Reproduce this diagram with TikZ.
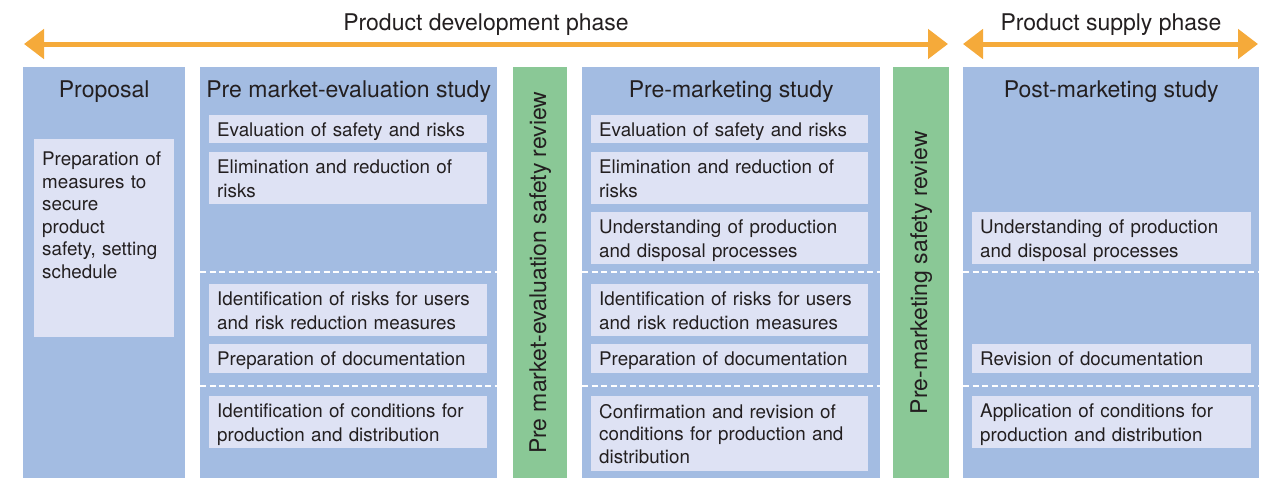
\documentclass[tikz,border=0pt]{standalone}
\usepackage{fontspec}
\setmainfont{TeX Gyre Heros}
\usetikzlibrary{arrows.meta}

\definecolor{colblue}{RGB}{163,188,226}
\definecolor{entryfill}{RGB}{222,226,244}
\definecolor{revgreen}{RGB}{138,200,150}
\definecolor{phaseorange}{RGB}{245,170,58}
\definecolor{textdark}{RGB}{35,31,32}

\newcommand{\entrystrut}{\rule[-4.5pt]{0pt}{22.8pt}}

\tikzset{
    column/.style={fill=colblue, anchor=north west, inner sep=0pt, minimum height=411pt},
    review/.style={column, fill=revgreen},
    heading/.style={text=textdark, font=\fontsize{23}{26}\selectfont, inner sep=0pt},
    entry/.style={fill=entryfill, anchor=north west, inner xsep=8pt, inner ysep=0pt,
        align=left, text=textdark, text width=#1,
        font=\fontsize{18.8}{22.6}\selectfont,
        execute at begin node=\entrystrut, execute at end node=\entrystrut},
    sep/.style={draw=white, line width=2pt, dash pattern=on 6pt off 3.5pt},
    phase/.style={draw=phaseorange, line width=5pt,
        {Triangle[length=20pt,width=29pt]}-{Triangle[length=20pt,width=29pt]}}
}

\begin{document}
\begin{tikzpicture}[x=1pt, y=-1pt]
    \useasboundingbox (0,0) rectangle (1277,479);

    % phases
    \coordinate (devL) at (24,44);
    \coordinate (devR) at (948,44);
    \coordinate (supL) at (963,44);
    \coordinate (supR) at (1258,44);
    \draw[phase] (devL) -- (devR);
    \draw[phase] (supL) -- (supR);
    \node[heading, anchor=base] (devlbl) at (486,30) {Product development phase};
    \node[heading, anchor=base] (suplbl) at (1111,30) {Product supply phase};

    % columns
    \node[column, minimum width=162pt] (prop) at (23,67) {};
    \node[column, minimum width=297pt] (pme) at (200,67) {};
    \node[review, minimum width=54pt] (rev1) at (513,67) {};
    \node[column, minimum width=298pt] (pms) at (582,67) {};
    \node[review, minimum width=56pt] (rev2) at (893,67) {};
    \node[column, minimum width=296pt] (post) at (963,67) {};

    \node[heading, anchor=base] (proptitle) at ([yshift=-30pt]prop.north) {Proposal};
    \node[heading, anchor=base] (pmetitle) at ([yshift=-30pt]pme.north) {Pre market-evaluation study};
    \node[heading, anchor=base] (pmstitle) at ([yshift=-30pt]pms.north) {Pre-marketing study};
    \node[heading, anchor=base] (posttitle) at ([yshift=-30pt]post.north) {Post-marketing study};
    \node[heading, rotate=90] (rev1lbl) at (rev1.center) {Pre market-evaluation safety review};
    \node[heading, rotate=90] (rev2lbl) at (rev2.center) {Pre-marketing safety review};

    % separators
    \foreach \y in {272,386} {
        \draw[sep] (200,\y) -- (497,\y);
        \draw[sep] (582,\y) -- (880,\y);
        \draw[sep] (963,\y) -- (1259,\y);
    }

    % proposal
    \node[entry=124pt, minimum height=198pt] (propbox) at (34,139) {};
    \node[entry=124pt, fill=none, inner ysep=8pt] (proptext) at (propbox.north west)
        {Preparation of\\measures to\\secure\\product\\safety, setting\\schedule};

    % pre market-evaluation study
    \node[entry=262pt, minimum height=28pt] (pme1) at (209,115) {Evaluation of safety and risks};
    \node[entry=262pt, minimum height=52pt] (pme2) at (209,152) {Elimination and reduction of\\risks};
    \node[entry=262pt, minimum height=52pt] (pme3) at (209,284) {Identification of risks for users\\and risk reduction measures};
    \node[entry=262pt, minimum height=29pt] (pme4) at (209,344) {Preparation of documentation};
    \node[entry=262pt, minimum height=52pt] (pme5) at (209,396) {Identification of conditions for\\production and distribution};

    % pre-marketing study
    \node[entry=261pt, minimum height=28pt] (pms1) at (591,115) {Evaluation of safety and risks};
    \node[entry=261pt, minimum height=52pt] (pms2) at (591,152) {Elimination and reduction of\\risks};
    \node[entry=261pt, minimum height=52pt] (pms3) at (591,212) {Understanding of production\\and disposal processes};
    \node[entry=261pt, minimum height=52pt] (pms4) at (591,284) {Identification of risks for users\\and risk reduction measures};
    \node[entry=261pt, minimum height=29pt] (pms5) at (591,344) {Preparation of documentation};
    \node[entry=261pt, minimum height=75pt] (pms6) at (591,396) {Confirmation and revision of\\conditions for production and\\distribution};

    % post-marketing study
    \node[entry=263pt, minimum height=52pt] (post1) at (972,212) {Understanding of production\\and disposal processes};
    \node[entry=263pt, minimum height=29pt] (post2) at (972,344) {Revision of documentation};
    \node[entry=263pt, minimum height=52pt] (post3) at (972,396) {Application of conditions for\\production and distribution};
\end{tikzpicture}
\end{document}
